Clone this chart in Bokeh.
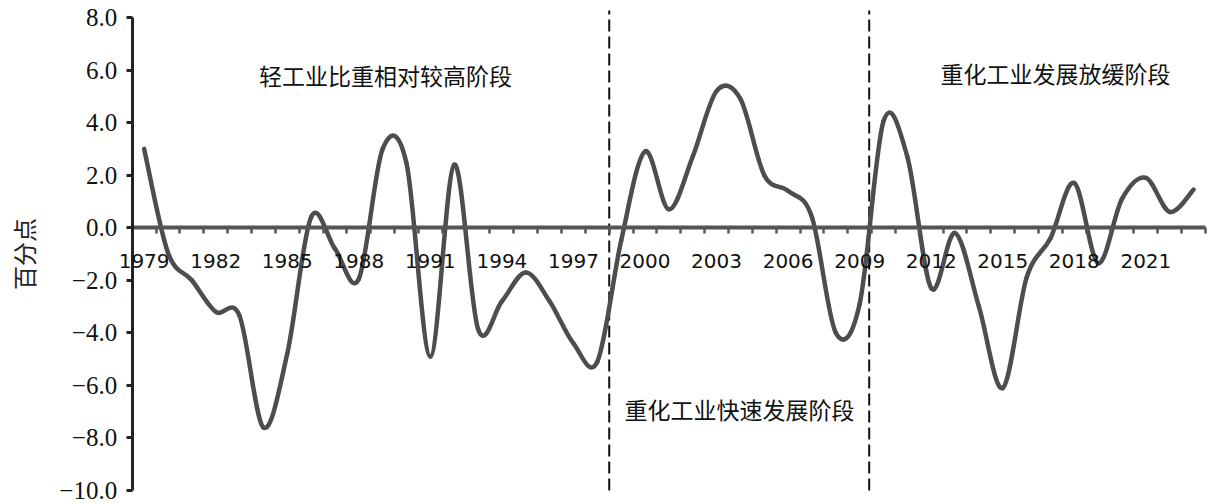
from bokeh.plotting import figure
from bokeh.models import LinearAxis, FixedTicker, Label, LabelSet, ColumnDataSource
from bokeh.core.properties import value
from bokeh.embed import file_html
from bokeh.resources import INLINE

# Annual difference (percentage points), 1979-2023
years = list(range(1979, 2024))
values = [3.0, -0.95, -2.0, -3.2, -3.35, -7.6, -4.8, 0.4, -0.8, -1.95,
          3.0, 2.45, -4.9, 2.4, -3.85, -2.8, -1.7, -2.8, -4.4, -5.1,
          -0.5, 2.9, 0.7, 2.7, 5.2, 4.9, 2.0, 1.4, 0.4, -4.0,
          -2.9, 4.05, 2.7, -2.3, -0.2, -3.0, -6.1, -1.9, -0.4, 1.7,
          -1.35, 1.1, 1.9, 0.6, 1.45]

label_years = list(range(1979, 2024, 3))
y_ticks = [-10, -8, -6, -4, -2, 0, 2, 4, 6, 8]
stage_breaks = [1998.5, 2009.4]
stage_names = ["轻工业比重相对较高阶段", "重化工业快速发展阶段", "重化工业发展放缓阶段"]

W, H = 1223, 504
# plot area in pixels; the frame covers the whole canvas so that axis
# labels sitting outside the data area are not clipped
left_px, right_px, top_px, bottom_px = 131.7, 1205.0, 17.0, 490.0
x_lo, x_hi = years[0] - 0.5, years[-1] + 0.5
y_lo, y_hi = y_ticks[0], y_ticks[-1]
ppx = (right_px - left_px) / (x_hi - x_lo)
ppy = (bottom_px - top_px) / (y_hi - y_lo)
x_range = (x_lo - left_px / ppx, x_hi + (W - right_px) / ppx)
y_range = (y_lo - (H - bottom_px) / ppy, y_hi + top_px / ppy)

p = figure(width=W, height=H, x_range=x_range, y_range=y_range,
           output_backend="svg", toolbar_location=None,
           min_border=0, x_axis_location=None, y_axis_location=None)
p.outline_line_color = None
p.grid.visible = False
p.background_fill_color = "white"
p.border_fill_color = "white"

# smoothed curve: cubic Bezier segments with Catmull-Rom style control points
n = len(years)
x0, y0, x1, y1, cx0, cy0, cx1, cy1 = ([] for _ in range(8))
for i in range(n - 1):
    xa, ya = years[i], values[i]
    xb, yb = years[i + 1], values[i + 1]
    xp, yp = (years[i - 1], values[i - 1]) if i > 0 else (xa, ya)
    xn, yn = (years[i + 2], values[i + 2]) if i + 2 < n else (xb, yb)
    x0.append(xa); y0.append(ya); x1.append(xb); y1.append(yb)
    cx0.append(xa + (xb - xp) / 6); cy0.append(ya + (yb - yp) / 6)
    cx1.append(xb - (xn - xa) / 6); cy1.append(yb - (yn - ya) / 6)

# stage separators
p.segment(x0=stage_breaks, y0=[y_lo] * 2, x1=stage_breaks, y1=[y_hi + 0.27] * 2,
          line_color="#111", line_width=2, line_dash="12 5")

# y axis on the left edge of the data area
yax = LinearAxis(fixed_location=x_lo, bounds=(y_lo, y_hi),
                 ticker=FixedTicker(ticks=y_ticks),
                 axis_line_color="#222", axis_line_width=3,
                 major_tick_line_color="#222", major_tick_line_width=3,
                 major_tick_out=6, major_tick_in=0, minor_tick_line_color=None,
                 major_label_standoff=9,
                 major_label_text_font="Liberation Serif",
                 major_label_text_font_size="25px",
                 major_label_text_color="#111",
                 axis_label="百分点",
                 axis_label_text_font="Noto Sans CJK SC",
                 axis_label_text_font_size="24px",
                 axis_label_text_font_style="normal",
                 axis_label_text_color="#222",
                 axis_label_standoff=16)
yax.major_label_overrides = {t: f"{t:.1f}".replace("-", "\u2212") for t in y_ticks}
p.add_layout(yax, "left")

# category-style x axis through zero: ticks on the year boundaries
bounds = [y - 0.5 for y in years] + [years[-1] + 0.5]
tick_axis = LinearAxis(fixed_location=0, bounds=(x_lo, x_hi),
                       ticker=FixedTicker(ticks=bounds),
                       axis_line_color="#555", axis_line_width=4,
                       major_tick_line_color="#555", major_tick_line_width=2.5,
                       major_tick_out=6, major_tick_in=0,
                       minor_tick_line_color=None,
                       major_label_text_font_size="0px")
tick_axis.major_label_overrides = {b: "" for b in bounds}
p.add_layout(tick_axis, "below")

# year labels centred on each category
year_src = ColumnDataSource(data=dict(x=label_years, y=[0] * len(label_years),
                                      text=[str(y) for y in label_years]))
p.add_layout(LabelSet(x="x", y="y", text="text", source=year_src,
                      text_align="center", text_baseline="top", y_offset=-26,
                      text_font=value("DejaVu Sans"), text_font_size=value("20px"),
                      text_color="#111"))

p.bezier(x0=x0, y0=y0, x1=x1, y1=y1, cx0=cx0, cy0=cy0, cx1=cx1, cy1=cy1,
         line_color="#4d4d4d", line_width=4.5, line_cap="round")

# stage labels
for name, (lx, ly) in zip(stage_names, [(1989.12, 5.83), (2003.96, -6.91), (2017.21, 5.90)]):
    p.add_layout(Label(x=lx, y=ly, text=name, text_align="center", text_baseline="middle",
                       text_font="Noto Sans CJK SC", text_font_size="23px",
                       text_color="#111"))

open("out.html", "w").write(file_html(p, INLINE))
